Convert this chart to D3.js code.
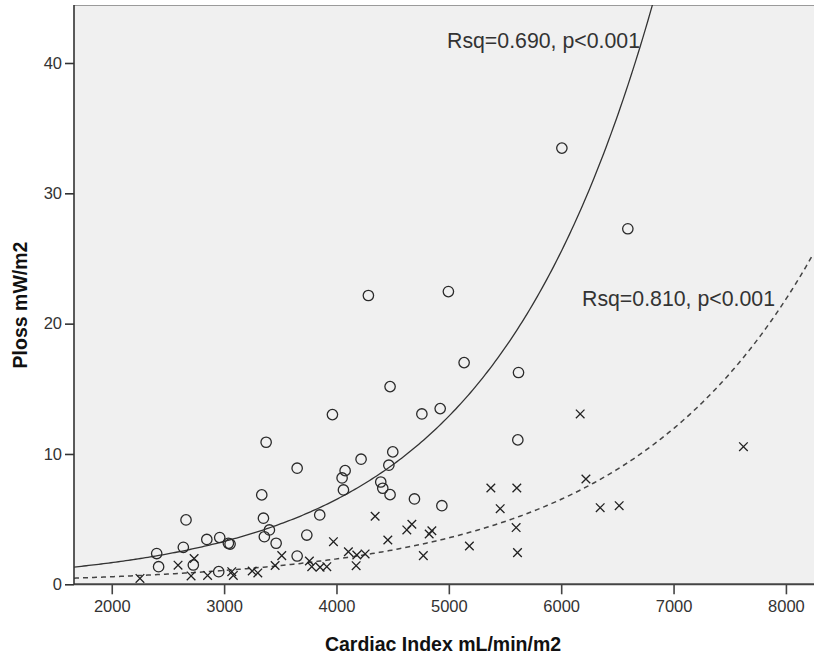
<!DOCTYPE html>
<html>
<head>
<meta charset="utf-8">
<script src="https://cdn.jsdelivr.net/npm/d3@7"></script>
<style>
  html, body { margin: 0; padding: 0; background: #fff; }
  svg { display: block; font-family: "Liberation Sans", Arial, sans-serif; }
</style>
</head>
<body>
<svg id="chart" width="814" height="656"></svg>
<script>
// Cardiac index (mL/min/m2) and power loss (mW/m2), two groups
const circleCI = [2400, 2417, 2637, 2661, 2726, 2846, 2961, 3038, 3053, 2952,
  3335, 3350, 3374, 3403, 3358, 3463, 3650, 3650, 3736, 3851, 3964, 4050, 4062,
  4077, 4219, 4284, 4394, 4412, 4466, 4477, 4477, 4501, 4694, 4760, 4923, 4938,
  4996, 5136, 5614, 5620, 6006, 6593];
const circlePloss = [2.36, 1.35, 2.84, 4.94, 1.48, 3.44, 3.59, 3.15, 3.09, 0.97,
  6.86, 5.07, 10.90, 4.17, 3.65, 3.15, 8.91, 2.17, 3.78, 5.32, 13.02, 8.16, 7.24,
  8.72, 9.60, 22.16, 7.85, 7.37, 9.14, 6.88, 15.17, 10.16, 6.55, 13.07, 13.48, 6.03,
  22.46, 17.01, 11.08, 16.25, 33.47, 27.28];

const crossCI = [2251, 2590, 2706, 2733, 2853, 3068, 3082, 3250, 3300, 3454,
  3513, 3759, 3780, 3854, 3914, 3973, 4106, 4175, 4181, 4255, 4344, 4457, 4626,
  4671, 4773, 4825, 4849, 5183, 5374, 5457, 5599, 5605, 5611, 6169, 6220, 6347,
  6516, 7622];
const crossPloss = [0.45, 1.47, 0.64, 1.98, 0.68, 0.97, 0.68, 1.02, 0.87, 1.44,
  2.20, 1.79, 1.35, 1.31, 1.35, 3.27, 2.50, 1.43, 2.25, 2.33, 5.22, 3.40, 4.17,
  4.61, 2.20, 3.86, 4.11, 2.94, 7.39, 5.80, 4.35, 7.39, 2.43, 13.07, 8.08, 5.88,
  6.03, 10.56];

// Exponential fits  y = a * exp(b * x)
const fitCircle = { a: 0.424, b: 0.000683, label: "Rsq=0.690, p<0.001" };
const fitCross  = { a: 0.173, b: 0.000605, label: "Rsq=0.810, p<0.001" };

const xTicks = [2000, 3000, 4000, 5000, 6000, 7000, 8000];
const yTicks = [0, 10, 20, 30, 40];

const xTitle = "Cardiac Index mL/min/m2";
const yTitle = "Ploss mW/m2";

const svg = d3.select("#chart");
const plot = { left: 74, top: 5, right: 814, bottom: 584.3 };

const x = d3.scaleLinear().domain([1664, 8241]).range([plot.left, plot.right - 1]);
const y = d3.scaleLinear().domain([0, 44.45]).range([plot.bottom, plot.top]);

// plot background
svg.append("rect")
  .attr("x", plot.left).attr("y", plot.top)
  .attr("width", plot.right - plot.left).attr("height", plot.bottom - plot.top)
  .attr("fill", "#f0f0f0");
svg.append("line")
  .attr("x1", plot.left).attr("x2", plot.right)
  .attr("y1", plot.top + 0.5).attr("y2", plot.top + 0.5)
  .attr("stroke", "#9a9a9a").attr("stroke-width", 1.2);

svg.append("clipPath").attr("id", "clip")
  .append("rect")
  .attr("x", plot.left).attr("y", plot.top)
  .attr("width", plot.right - plot.left).attr("height", plot.bottom - plot.top);

// fit curves
function fitPoints(fit) {
  const [x0, x1] = x.domain();
  const n = 300;
  return d3.range(n + 1).map(i => {
    const cx = x0 + (x1 - x0) * i / n;
    return [cx, fit.a * Math.exp(fit.b * cx)];
  });
}
const line = d3.line().x(d => x(d[0])).y(d => y(d[1])).curve(d3.curveLinear);

const curves = svg.append("g").attr("clip-path", "url(#clip)");
curves.append("path")
  .attr("d", line(fitPoints(fitCircle)))
  .attr("fill", "none").attr("stroke", "#333").attr("stroke-width", 1.3);
curves.append("path")
  .attr("d", line(fitPoints(fitCross)))
  .attr("fill", "none").attr("stroke", "#444").attr("stroke-width", 1.5)
  .attr("stroke-dasharray", "5,4");

// markers
const marks = svg.append("g").attr("clip-path", "url(#clip)");
marks.selectAll("circle.pt")
  .data(d3.zip(circleCI, circlePloss))
  .join("circle")
  .attr("class", "pt")
  .attr("cx", d => x(d[0])).attr("cy", d => y(d[1]))
  .attr("r", 5.2)
  .attr("fill", "none").attr("stroke", "#2a2a2a").attr("stroke-width", 1.3);

const s = 4.3;
marks.selectAll("path.cross")
  .data(d3.zip(crossCI, crossPloss))
  .join("path")
  .attr("class", "cross")
  .attr("d", d => {
    const cx = x(d[0]), cy = y(d[1]);
    return `M${cx - s},${cy - s}L${cx + s},${cy + s}M${cx - s},${cy + s}L${cx + s},${cy - s}`;
  })
  .attr("fill", "none").attr("stroke", "#222").attr("stroke-width", 1.3);

// fit annotations
svg.append("text")
  .attr("x", 447).attr("y", 48.3)
  .attr("font-size", 21.3).attr("fill", "#333")
  .text(fitCircle.label);
svg.append("text")
  .attr("x", 582).attr("y", 305.7)
  .attr("font-size", 21.3).attr("fill", "#333")
  .text(fitCross.label);

// axes
const xAxis = d3.axisBottom(x).tickValues(xTicks).tickSize(10).tickPadding(6).tickFormat(d3.format("d"));
const gx = svg.append("g").attr("transform", `translate(0,${plot.bottom})`).call(xAxis);
gx.select(".domain").attr("d", `M${plot.left},0H${plot.right}`)
  .attr("stroke", "#444").attr("stroke-width", 2);
gx.selectAll(".tick line").attr("stroke", "#444").attr("stroke-width", 1.6);
gx.selectAll(".tick text").attr("font-size", 16.5).attr("fill", "#333")
  .attr("font-family", "'Liberation Sans', Arial, sans-serif");

const yAxis = d3.axisLeft(y).tickValues(yTicks).tickSize(9).tickPadding(3).tickFormat(d3.format("d"));
const gy = svg.append("g").attr("transform", `translate(${plot.left},0)`).call(yAxis);
gy.select(".domain").attr("d", `M0,${plot.top}V${plot.bottom}`)
  .attr("stroke", "#333").attr("stroke-width", 1.6);
gy.selectAll(".tick line").attr("stroke", "#333").attr("stroke-width", 1.6);
gy.selectAll(".tick text").attr("font-size", 16.5).attr("fill", "#333")
  .attr("font-family", "'Liberation Sans', Arial, sans-serif");

// axis titles
svg.append("text")
  .attr("x", 443).attr("y", 651)
  .attr("text-anchor", "middle")
  .attr("font-size", 19.5).attr("font-weight", "bold").attr("fill", "#111")
  .text(xTitle);
svg.append("text")
  .attr("transform", `translate(27,305) rotate(-90)`)
  .attr("text-anchor", "middle")
  .attr("font-size", 19.5).attr("font-weight", "bold").attr("fill", "#111")
  .text(yTitle);
</script>
</body>
</html>
